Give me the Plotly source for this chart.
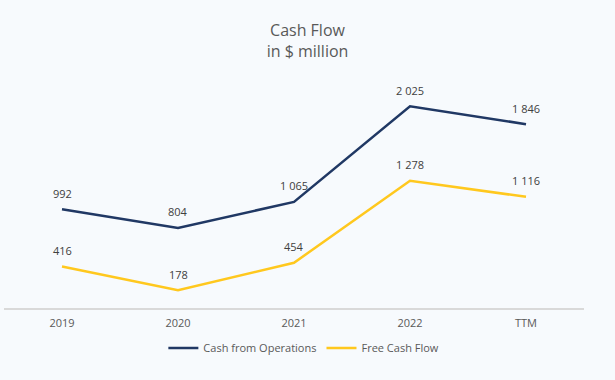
import plotly.graph_objects as go

categories = ["2019", "2020", "2021", "2022", "TTM"]
cash_from_operations = [992, 804, 1065, 2025, 1846]
free_cash_flow = [416, 178, 454, 1278, 1116]

NAVY = "#203864"
GOLD = "#FFC81E"
GRAY = "#595959"
BG = "#F7FAFD"
FONT = "Open Sans, Lato, sans-serif"

def fmt(v):
    return f"{v:,}".replace(",", " ")

fig = go.Figure()
fig.add_trace(go.Scatter(x=categories, y=cash_from_operations, mode="lines",
                         name="Cash from Operations", line=dict(color=NAVY, width=2.5)))
fig.add_trace(go.Scatter(x=categories, y=free_cash_flow, mode="lines",
                         name="Free Cash Flow", line=dict(color=GOLD, width=2.5)))

ann = []
for series in (cash_from_operations, free_cash_flow):
    for i, v in enumerate(series):
        ann.append(dict(x=i, y=v, xref="x", yref="y", text=fmt(v), showarrow=False,
                        yshift=16, font=dict(size=11, color="#404040", family=FONT)))

fig.update_layout(
    width=615, height=380,
    paper_bgcolor=BG, plot_bgcolor=BG,
    margin=dict(l=4, r=31, t=59, b=72, autoexpand=False),
    title=dict(text="Cash Flow<br>in $ million", x=0.5, xanchor="center",
               y=0.904, yanchor="top",
               font=dict(size=16, color=GRAY, family=FONT)),
    xaxis=dict(type="category", range=[-0.5, 4.5], showgrid=False,
               showline=True, linecolor="#D9D9D9", linewidth=1.5,
               ticks="", ticklabelstandoff=4,
               tickfont=dict(size=11, color=GRAY, family=FONT)),
    yaxis=dict(range=[0, 2500], visible=False, showgrid=False, zeroline=False),
    legend=dict(orientation="h", x=0.517, xanchor="center", y=-0.102, yanchor="top",
                font=dict(size=11, color=GRAY, family=FONT)),
    annotations=ann,
    showlegend=True,
)

fig.write_html(
    "out.html",
    config={"displayModeBar": False},
    post_script="document.body.style.margin='0';document.body.style.background='#F7FAFD';",
)
